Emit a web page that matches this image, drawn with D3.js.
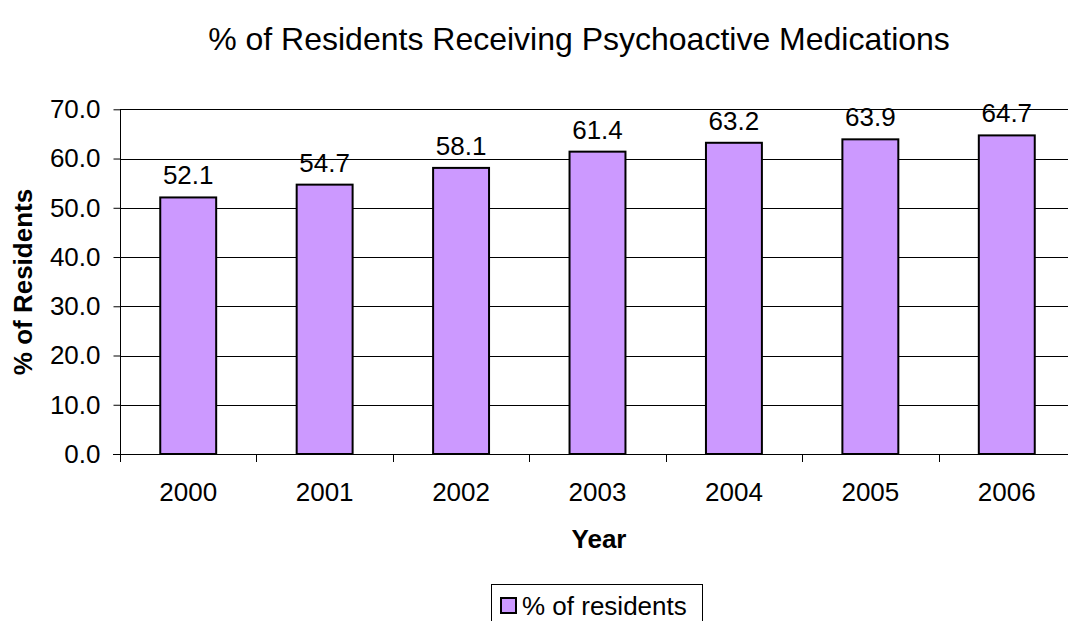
<!DOCTYPE html>
<html>
<head>
<meta charset="utf-8">
<script src="https://cdn.jsdelivr.net/npm/d3@7"></script>
<style>
  body { margin: 0; background: #fff; }
  svg { display: block; font-family: Arial, "Liberation Sans", sans-serif; }
</style>
</head>
<body>
<script>
// chart data
const years = ['2000', '2001', '2002', '2003', '2004', '2005', '2006']
const residentsPct = [52.1, 54.7, 58.1, 61.4, 63.2, 63.9, 64.7]
const yTicks = [0, 10, 20, 30, 40, 50, 60, 70]
const seriesName = '% of residents'

const width = 1068,
  height = 621
const barColor = '#cc99ff'

const svg = d3.select('body').append('svg')
  .attr('width', width)
  .attr('height', height)

// plot frame (right edge runs slightly past the window, as in the reference)
const plot = { left: 120, right: 1075, top: 109.3, bottom: 454 }

const x = d3.scaleBand()
  .domain(years)
  .range([plot.left, plot.right])
  .paddingInner(0.59)
  .paddingOuter(0.295)

const y = d3.scaleLinear().domain([0, 70]).range([plot.bottom, plot.top])

// title
svg.append('text')
  .attr('x', 579)
  .attr('y', 50)
  .attr('text-anchor', 'middle')
  .style('font-size', '32px')
  .text('% of Residents Receiving Psychoactive Medications')

// gridlines
svg.append('g')
  .selectAll('line')
  .data(yTicks.slice(1))
  .enter()
  .append('line')
  .attr('x1', plot.left)
  .attr('x2', plot.right)
  .attr('y1', d => Math.round(y(d)) + 0.5)
  .attr('y2', d => Math.round(y(d)) + 0.5)
  .attr('stroke', '#000')
  .attr('stroke-width', 1)

// y axis
const yAxis = svg.append('g')
  .attr('transform', `translate(${plot.left + 0.5},0)`)
  .call(d3.axisLeft(y).tickValues(yTicks).tickFormat(d3.format('.1f')).tickSize(7).tickPadding(13))
yAxis.select('.domain').attr('stroke', '#000').attr('d', `M0,${plot.top}V${plot.bottom + 8}`)
yAxis.selectAll('.tick line').attr('stroke', '#000')
yAxis.selectAll('.tick text')
  .style('font-size', '26px')
  .style('font-family', 'Arial, "Liberation Sans", sans-serif')
  .attr('fill', '#000')

// bars
svg.append('g')
  .selectAll('rect')
  .data(years)
  .enter()
  .append('rect')
  .attr('x', d => x(d))
  .attr('y', (d, i) => y(residentsPct[i]))
  .attr('width', x.bandwidth())
  .attr('height', (d, i) => plot.bottom - y(residentsPct[i]))
  .attr('fill', barColor)
  .attr('stroke', '#000')
  .attr('stroke-width', 2)

// value labels
svg.append('g')
  .selectAll('text')
  .data(years)
  .enter()
  .append('text')
  .attr('x', d => x(d) + x.bandwidth() / 2)
  .attr('y', (d, i) => y(residentsPct[i]) - 13)
  .attr('text-anchor', 'middle')
  .style('font-size', '26px')
  .text((d, i) => residentsPct[i].toFixed(1))

// x axis line and category boundary ticks
const gap = x.step() - x.bandwidth()
const bounds = years.map(d => x(d) - gap / 2).concat([plot.right])
svg.append('line')
  .attr('x1', plot.left - 7)
  .attr('x2', plot.right)
  .attr('y1', plot.bottom + 0.5)
  .attr('y2', plot.bottom + 0.5)
  .attr('stroke', '#000')
svg.append('g')
  .selectAll('line')
  .data(bounds)
  .enter()
  .append('line')
  .attr('x1', d => Math.round(d) + 0.5)
  .attr('x2', d => Math.round(d) + 0.5)
  .attr('y1', plot.bottom)
  .attr('y2', plot.bottom + 8)
  .attr('stroke', '#000')

// x tick labels
svg.append('g')
  .selectAll('text')
  .data(years)
  .enter()
  .append('text')
  .attr('x', d => x(d) + x.bandwidth() / 2)
  .attr('y', 501)
  .attr('text-anchor', 'middle')
  .style('font-size', '26px')
  .text(d => d)

// axis titles
svg.append('text')
  .attr('x', 599)
  .attr('y', 548)
  .attr('text-anchor', 'middle')
  .style('font-size', '26px')
  .style('font-weight', 'bold')
  .text('Year')

svg.append('text')
  .attr('transform', 'translate(32,282) rotate(-90)')
  .attr('text-anchor', 'middle')
  .style('font-size', '26px')
  .style('font-weight', 'bold')
  .text('% of Residents')

// legend
const legend = svg.append('g')
legend.append('rect')
  .attr('x', 491.5)
  .attr('y', 584.5)
  .attr('width', 211)
  .attr('height', 60)
  .attr('fill', '#fff')
  .attr('stroke', '#000')
legend.append('rect')
  .attr('x', 501)
  .attr('y', 598)
  .attr('width', 15)
  .attr('height', 15)
  .attr('fill', barColor)
  .attr('stroke', '#000')
  .attr('stroke-width', 2)
legend.append('text')
  .attr('x', 522)
  .attr('y', 615)
  .style('font-size', '26px')
  .text(seriesName)
</script>
</body>
</html>
